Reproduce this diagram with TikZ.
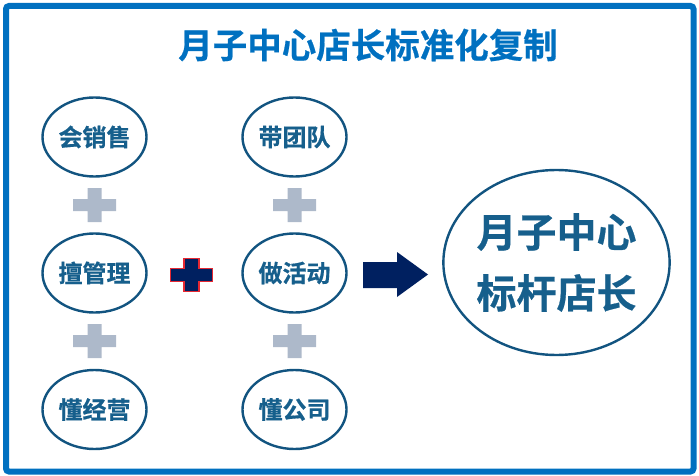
\documentclass[tikz,border=0pt]{standalone}
\usepackage{fontspec}
\setmainfont{Noto Sans CJK SC}[BoldFont={Noto Sans CJK SC Bold},BoldFeatures={FakeBold=0.6}]
\usetikzlibrary{shapes.geometric}
\definecolor{framebl}{RGB}{0,112,192}
\definecolor{txtbl}{RGB}{22,95,140}
\definecolor{ellbl}{RGB}{18,84,128}
\definecolor{plusgray}{RGB}{173,185,202}
\definecolor{navy}{RGB}{0,32,96}
\definecolor{plusred}{RGB}{230,40,50}
\tikzset{
  skill/.style={ellipse, draw=ellbl, line width=2.4pt, fill=white,
    minimum width=104pt, minimum height=79pt, inner sep=0pt,
    text=txtbl, font=\fontsize{24}{28}\selectfont\bfseries},
  goal/.style={ellipse, draw=ellbl, line width=2.4pt, fill=white,
    minimum width=221pt, minimum height=185pt, inner sep=0pt,
    text=txtbl, align=center, font=\fontsize{40}{61}\selectfont\bfseries},
  titletext/.style={text=framebl, font=\fontsize{34.5}{40}\selectfont\bfseries},
  graypl/.style={fill=plusgray, draw=none},
  redpl/.style={fill=navy, draw=plusred, line width=1.2pt},
  bigarrow/.style={fill=navy, draw=none}
}
\begin{document}
\begin{tikzpicture}[x=1pt,y=-1pt]
\useasboundingbox (0,0) rectangle (699,476);
\draw[framebl, line width=6pt, rounded corners=3pt] (6,6) rectangle (693.5,471.5);
\node[titletext] (title) at (368,45) {月子中心店长标准化复制};
% left column
\node[skill] (a1) at (94.5,137) {会销售};
\node[skill] (a2) at (94.5,273) {擅管理};
\node[skill] (a3) at (94.5,409.5) {懂经营};
% second column
\node[skill] (b1) at (294.5,137) {带团队};
\node[skill] (b2) at (294.5,273) {做活动};
\node[skill] (b3) at (294.5,409.5) {懂公司};
% goal
\node[goal] (g) at (556.5,262.5) {月子中心\\标杆店长};
% gray pluses
\foreach \cx/\cy in {94.5/205, 94.5/341, 294.5/205, 294.5/341}{
  \fill[graypl] (\cx-21.5,\cy-6) -- (\cx-7,\cy-6) -- (\cx-7,\cy-17) -- (\cx+7,\cy-17)
    -- (\cx+7,\cy-6) -- (\cx+21.5,\cy-6) -- (\cx+21.5,\cy+6) -- (\cx+7,\cy+6)
    -- (\cx+7,\cy+17) -- (\cx-7,\cy+17) -- (\cx-7,\cy+6) -- (\cx-21.5,\cy+6) -- cycle;
}
% red-outlined plus
\def\cx{191.5}\def\cy{275}
\filldraw[redpl] (\cx-21,\cy-6.5) -- (\cx-7.5,\cy-6.5) -- (\cx-7.5,\cy-16.5) -- (\cx+7.5,\cy-16.5)
    -- (\cx+7.5,\cy-6.5) -- (\cx+21,\cy-6.5) -- (\cx+21,\cy+6.5) -- (\cx+7.5,\cy+6.5)
    -- (\cx+7.5,\cy+16.5) -- (\cx-7.5,\cy+16.5) -- (\cx-7.5,\cy+6.5) -- (\cx-21,\cy+6.5) -- cycle;
% big arrow
\fill[bigarrow] (363,262) -- (397,262) -- (397,252) -- (428,274.5) -- (397,297) -- (397,288) -- (363,288) -- cycle;
\end{tikzpicture}
\end{document}
